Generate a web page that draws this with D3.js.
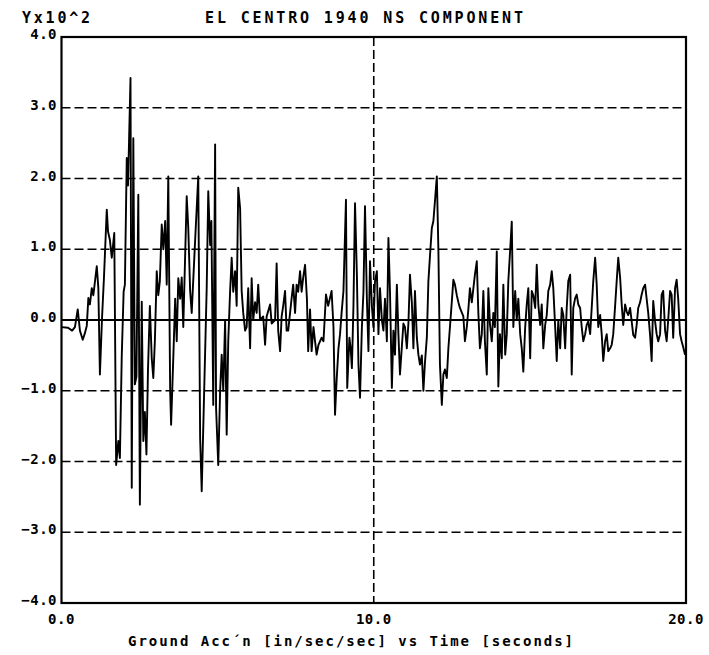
<!DOCTYPE html>
<html><head><meta charset="utf-8">
<script src="https://cdn.jsdelivr.net/npm/d3@7"></script>
<style>body{margin:0;background:#fff}svg{display:block}</style>
</head><body><svg id="c" width="709" height="655"></svg>
<script>
const titleText = "EL CENTRO 1940 NS COMPONENT";
const yUnitText = "Yx10^2";
const xLabelText = "Ground Acc\u00b4n [in/sec/sec] vs Time [seconds]";
const yTicks = [-4, -3, -2, -1, 0, 1, 2, 3, 4];
const xTicks = [0, 10, 20];
const gridY = [-3, -2, -1, 1, 2, 3];
const gridX = [10];

const timeSec = [
0.00,0.21,0.34,0.43,0.52,0.59,0.68,0.74,0.81,0.86,0.91,0.97,1.02,1.13,1.18,1.23,1.30,1.36,1.45,1.49,
1.55,1.61,1.69,1.75,1.82,1.87,1.93,1.99,2.03,2.09,2.13,2.21,2.25,2.30,2.35,2.40,2.46,2.51,2.57,2.62,
2.67,2.72,2.77,2.83,2.89,2.94,2.99,3.05,3.10,3.15,3.21,3.26,3.32,3.37,3.42,3.48,3.51,3.58,3.64,3.69,
3.74,3.80,3.85,3.90,4.01,4.06,4.12,4.17,4.28,4.38,4.44,4.49,4.60,4.65,4.70,4.76,4.80,4.86,4.92,4.95,
5.02,5.08,5.13,5.18,5.24,5.29,5.34,5.40,5.45,5.50,5.56,5.61,5.66,5.72,5.77,5.82,5.88,5.93,5.98,6.04,
6.09,6.14,6.20,6.25,6.30,6.36,6.46,6.52,6.57,6.68,6.73,6.84,6.89,6.94,7.00,7.05,7.10,7.16,7.21,7.26,
7.32,7.37,7.42,7.48,7.53,7.58,7.64,7.69,7.74,7.80,7.86,7.90,7.96,8.01,8.07,8.12,8.17,8.23,8.33,8.39,
8.47,8.54,8.65,8.71,8.76,8.81,8.87,8.92,8.97,9.03,9.11,9.15,9.22,9.26,9.30,9.35,9.40,9.46,9.51,9.56,
9.62,9.67,9.72,9.78,9.83,9.88,9.94,9.99,10.04,10.10,10.15,10.20,10.26,10.31,10.36,10.42,10.47,10.52,10.58,10.63,
10.68,10.74,10.79,10.84,10.95,11.00,11.06,11.11,11.16,11.22,11.27,11.32,11.38,11.43,11.48,11.54,11.59,11.64,11.70,11.75,
11.80,11.86,11.91,11.96,12.02,12.07,12.12,12.18,12.23,12.28,12.34,12.39,12.50,12.55,12.60,12.66,12.71,12.76,12.87,12.92,
12.98,13.03,13.08,13.14,13.24,13.30,13.35,13.40,13.46,13.51,13.56,13.62,13.67,13.72,13.78,13.83,13.88,13.94,13.99,14.04,
14.10,14.15,14.21,14.26,14.31,14.37,14.42,14.47,14.53,14.58,14.63,14.69,14.74,14.79,14.85,14.90,14.95,15.01,15.06,15.11,
15.17,15.22,15.27,15.33,15.38,15.43,15.49,15.54,15.59,15.65,15.70,15.75,15.81,15.86,15.91,15.97,16.02,16.07,16.13,16.18,
16.23,16.29,16.34,16.39,16.45,16.50,16.55,16.61,16.66,16.71,16.77,16.82,16.87,16.93,16.98,17.03,17.09,17.14,17.19,17.25,
17.30,17.35,17.41,17.46,17.51,17.57,17.62,17.67,17.73,17.78,17.83,17.89,17.94,17.99,18.05,18.10,18.15,18.21,18.26,18.31,
18.37,18.42,18.47,18.53,18.58,18.63,18.69,18.74,18.79,18.85,18.90,18.95,19.01,19.06,19.11,19.17,19.22,19.27,19.33,19.38,
19.43,19.49,19.54,19.59,19.65,19.70,19.75,19.81,19.86,19.92,19.97
];

const accel = [
-0.10,-0.11,-0.15,-0.10,0.15,-0.15,-0.28,-0.20,-0.08,0.31,0.22,0.45,0.35,0.76,0.45,-0.77,0.05,0.60,1.56,1.25,
1.13,0.88,1.23,-2.05,-1.71,-1.95,-0.50,0.40,0.50,2.29,1.90,3.42,-2.37,2.57,-0.91,-0.80,1.77,-2.61,0.26,-1.71,
-1.30,-1.90,-0.70,0.20,-0.54,-0.82,-0.30,0.69,0.35,0.55,1.35,1.00,1.40,0.50,2.03,-1.00,-1.48,-0.54,0.30,-0.30,
0.59,0.30,0.60,-0.10,1.75,1.30,0.41,0.10,1.13,2.03,-1.67,-2.42,-0.45,0.45,1.82,1.06,1.40,-1.20,2.48,-1.24,
-2.05,-1.00,-0.49,-1.00,0.00,-1.62,-0.30,0.41,0.88,0.40,0.69,0.20,1.87,1.58,0.41,0.10,-0.15,-0.10,0.45,-0.40,
0.59,0.00,0.25,0.10,0.50,0.00,0.05,-0.35,0.05,0.22,-0.05,0.00,0.80,-0.15,-0.44,0.05,0.20,0.41,-0.15,-0.15,
0.10,0.31,0.50,0.10,0.50,0.40,0.69,0.40,0.60,0.78,0.30,-0.44,0.15,-0.44,-0.10,-0.30,-0.49,-0.35,-0.25,-0.30,
0.36,0.20,0.41,-0.10,-1.34,-0.86,-0.40,-0.20,0.10,0.41,1.70,-0.96,-0.25,-0.40,-0.68,0.20,1.65,0.64,-0.63,-1.10,
-0.10,0.40,1.61,0.30,-0.44,0.83,0.20,-0.10,0.55,0.69,-0.20,0.45,0.00,-0.15,0.30,-0.30,1.16,0.40,-0.96,-0.15,
-0.49,0.50,-0.20,-0.77,-0.05,-0.10,-0.40,-0.05,0.64,0.25,-0.40,0.41,-0.25,-0.49,-0.63,-0.50,-1.00,-0.60,-0.25,0.55,
0.90,1.30,1.40,1.68,2.03,1.00,-0.63,-1.20,-0.77,-0.70,-0.82,-0.40,0.26,0.57,0.50,0.35,0.25,0.17,0.05,-0.30,
-0.10,0.15,0.45,0.25,0.64,0.83,0.10,-0.40,-0.20,0.41,-0.30,-0.77,0.45,-0.05,-0.30,0.10,-0.10,0.97,-0.94,-0.20,
-0.54,0.50,-0.49,-0.20,0.55,1.00,1.39,-0.10,0.41,0.00,0.30,-0.20,-0.40,-0.73,-0.10,0.22,0.45,-0.54,0.41,0.35,
0.17,0.78,0.22,-0.07,0.22,-0.40,-0.07,0.07,0.41,0.50,0.69,0.45,-0.10,-0.58,0.00,-0.40,0.17,0.07,-0.40,0.17,
0.55,0.64,-0.77,0.17,0.31,0.36,0.22,0.17,-0.10,-0.30,-0.20,-0.07,-0.02,-0.20,0.17,0.55,0.88,0.50,-0.10,0.07,
-0.20,-0.58,-0.30,-0.20,-0.44,-0.40,-0.35,-0.20,0.20,0.55,0.88,0.60,0.22,-0.07,0.22,0.12,0.07,0.17,-0.02,-0.21,
-0.25,-0.07,0.17,0.25,0.36,0.45,0.50,0.30,0.10,-0.21,-0.58,0.27,-0.02,-0.20,-0.30,-0.20,0.36,0.41,-0.15,-0.30,
0.00,0.41,0.36,-0.25,0.45,0.57,0.30,-0.20,-0.30,-0.40,-0.49
];

const pL = 61.5, pR = 686, pT = 37, pB = 603;
const svg = d3.select("#c");
const x = d3.scaleLinear().domain([0, 20]).range([pL, pR]);
const y = d3.scaleLinear().domain([-4, 4]).range([pB, pT]);
const font = "'DejaVu Sans Mono', monospace";
const fmt = d3.format(".1f");

// dashed grid
svg.append("g").selectAll("line").data(gridY).join("line")
  .attr("x1", pL).attr("x2", pR)
  .attr("y1", d => y(d)).attr("y2", d => y(d))
  .attr("stroke", "#000").attr("stroke-width", 1.6)
  .attr("stroke-dasharray", "9,4");
svg.append("g").selectAll("line").data(gridX).join("line")
  .attr("x1", d => x(d)).attr("x2", d => x(d))
  .attr("y1", pT).attr("y2", pB)
  .attr("stroke", "#000").attr("stroke-width", 1.6)
  .attr("stroke-dasharray", "9,4");
// zero line
svg.append("line").attr("x1", pL).attr("x2", pR)
  .attr("y1", y(0)).attr("y2", y(0))
  .attr("stroke", "#000").attr("stroke-width", 1.8);

// signal
const pts = timeSec.map((t, i) => [t, accel[i]]);
svg.append("path").datum(pts)
  .attr("d", d3.line().defined(d => d[1] != null).x(d => x(d[0])).y(d => y(d[1])))
  .attr("fill", "none").attr("stroke", "#000")
  .attr("stroke-width", 1.9).attr("stroke-linejoin", "round");

// frame
svg.append("rect").attr("x", pL).attr("y", pT)
  .attr("width", pR - pL).attr("height", pB - pT)
  .attr("fill", "none").attr("stroke", "#000").attr("stroke-width", 2.2);

// y tick labels
svg.append("g").selectAll("text").data(yTicks).join("text")
  .attr("x", 57).attr("y", d => y(d) + 2)
  .attr("text-anchor", "end")
  .attr("font-family", font).attr("font-weight", "bold").attr("font-size", 14)
  .attr("letter-spacing", 0.5)
  .text(d => fmt(d));
// x tick labels
svg.append("g").selectAll("text").data(xTicks).join("text")
  .attr("x", d => x(d)).attr("y", 624)
  .attr("text-anchor", "middle")
  .attr("font-family", font).attr("font-weight", "bold").attr("font-size", 14)
  .attr("letter-spacing", 0.5)
  .text(d => fmt(d));

svg.append("text").attr("x", 22).attr("y", 23)
  .attr("font-family", font).attr("font-weight", "bold").attr("font-size", 15)
  .attr("textLength", 68).attr("lengthAdjust", "spacing")
  .text(yUnitText);
svg.append("text").attr("x", 205).attr("y", 23)
  .attr("font-family", font).attr("font-weight", "bold").attr("font-size", 15)
  .attr("textLength", 318).attr("lengthAdjust", "spacing")
  .text(titleText);
svg.append("text").attr("x", 128).attr("y", 646)
  .attr("font-family", font).attr("font-weight", "bold").attr("font-size", 14)
  .attr("textLength", 445).attr("lengthAdjust", "spacing")
  .text(xLabelText);
</script></body></html>
